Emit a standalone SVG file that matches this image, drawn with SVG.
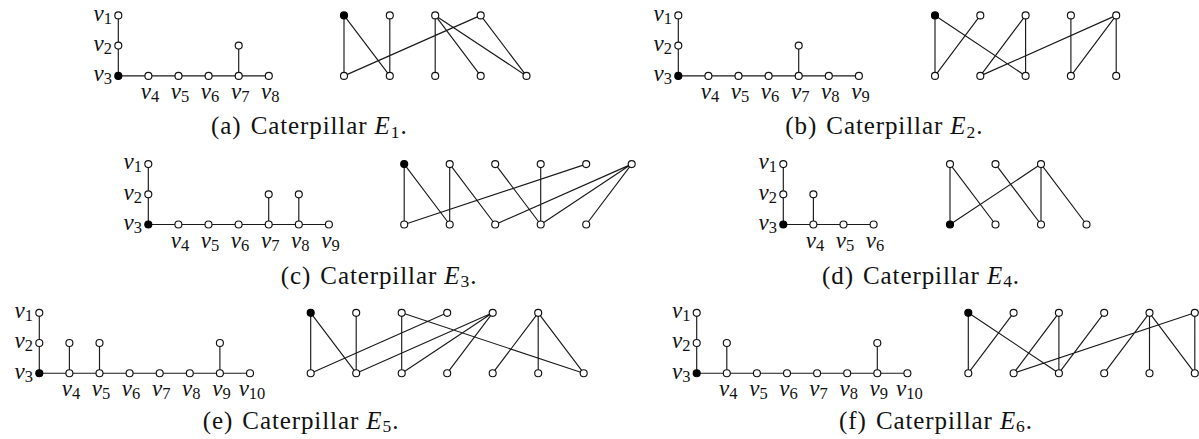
<svg xmlns="http://www.w3.org/2000/svg" width="1199" height="439" viewBox="0 0 1199 439">
<style>
.e{stroke:#1a1a1a;stroke-width:1.15;fill:none}
.n{fill:#fff;stroke:#111;stroke-width:1.15}
.k{fill:#000;stroke:#000;stroke-width:1.15}
.lb{font-family:'Liberation Serif',serif;font-size:23px;font-style:italic;fill:#111}
.sb{font-size:16.5px;font-style:normal}
.cap{font-family:'Liberation Serif',serif;font-size:25px;fill:#111;letter-spacing:0.9px;text-anchor:middle}
.it{font-style:italic}
.cs{font-size:17.5px}
</style>
<rect width="1199" height="439" fill="#fff"/>
<g id="connectors">
<path class="e" d="M118.3 15.4V75.9H268.8M238.7 45.6V75.9"/>
<path class="e" d="M344 15.4L344 75.9M344 15.4L389.8 75.9M389.8 15.4L389.8 75.9M435.2 15.4L435.2 75.9M435.2 15.4L480.7 75.9M435.2 15.4L526.5 75.9M480.7 15.4L344 75.9M480.7 15.4L526.5 75.9"/>
<path class="e" d="M678.3 15.4V75.9H858.9M798.7 45.6V75.9"/>
<path class="e" d="M935 15.4L935 75.9M935 15.4L1025.6 75.9M980.3 15.4L935 75.9M1025.6 15.4L980.3 75.9M1025.6 15.4L1025.6 75.9M1070.9 15.4L1070.9 75.9M1116.2 15.4L980.3 75.9M1116.2 15.4L1070.9 75.9M1116.2 15.4L1116.2 75.9"/>
<path class="e" d="M148.3 164.1V224.5H328.9M268.7 194.3V224.5M298.8 194.3V224.5"/>
<path class="e" d="M404.2 164.1L404.2 224.5M404.2 164.1L449.7 224.5M449.7 164.1L449.7 224.5M449.7 164.1L495.2 224.5M495.2 164.1L540.7 224.5M540.7 164.1L540.7 224.5M586.2 164.1L404.2 224.5M631.7 164.1L495.2 224.5M631.7 164.1L540.7 224.5M631.7 164.1L586.2 224.5"/>
<path class="e" d="M783.3 164.1V224.5H873.6M813.4 194.3V224.5"/>
<path class="e" d="M950 164.1L950 224.5M950 164.1L995.5 224.5M995.5 164.1L1041 224.5M1041 164.1L950 224.5M1041 164.1L1041 224.5M1041 164.1L1086.5 224.5"/>
<path class="e" d="M39.3 312.8V373.2H250M69.4 343V373.2M99.5 343V373.2M219.9 343V373.2"/>
<path class="e" d="M310.7 312.8L310.7 373.2M310.7 312.8L356.2 373.2M356.2 312.8L356.2 373.2M401.7 312.8L401.7 373.2M401.7 312.8L583.7 373.2M447.2 312.8L310.7 373.2M492.7 312.8L356.2 373.2M492.7 312.8L401.7 373.2M492.7 312.8L447.2 373.2M538.2 312.8L492.7 373.2M538.2 312.8L538.2 373.2M538.2 312.8L583.7 373.2"/>
<path class="e" d="M696.7 312.8V373.2H907.4M726.8 343V373.2M877.3 343V373.2"/>
<path class="e" d="M968.3 312.8L968.3 373.2M968.3 312.8L1058.9 373.2M1013.6 312.8L968.3 373.2M1058.9 312.8L1013.6 373.2M1058.9 312.8L1058.9 373.2M1104.2 312.8L1058.9 373.2M1149.5 312.8L1104.2 373.2M1149.5 312.8L1149.5 373.2M1149.5 312.8L1194.8 373.2M1194.8 312.8L1013.6 373.2M1194.8 312.8L1194.8 373.2"/>
</g>
<!-- Panel a -->
<g id="a-v1"><circle class="n" cx="118.3" cy="15.4" r="3.5"/><text class="lb" x="112" y="20.7" text-anchor="end">v<tspan class="sb" dy="3">1</tspan></text></g>
<g id="a-v2"><circle class="n" cx="118.3" cy="45.6" r="3.5"/><text class="lb" x="112" y="50.9" text-anchor="end">v<tspan class="sb" dy="3">2</tspan></text></g>
<g id="a-v3"><circle class="k" cx="118.3" cy="75.9" r="3.5"/><text class="lb" x="112" y="81.2" text-anchor="end">v<tspan class="sb" dy="3">3</tspan></text></g>
<g id="a-v4"><circle class="n" cx="148.4" cy="75.9" r="3.5"/><text class="lb" x="149.9" y="98.9" text-anchor="middle">v<tspan class="sb" dy="3">4</tspan></text></g>
<g id="a-v5"><circle class="n" cx="178.5" cy="75.9" r="3.5"/><text class="lb" x="180" y="98.9" text-anchor="middle">v<tspan class="sb" dy="3">5</tspan></text></g>
<g id="a-v6"><circle class="n" cx="208.6" cy="75.9" r="3.5"/><text class="lb" x="210.1" y="98.9" text-anchor="middle">v<tspan class="sb" dy="3">6</tspan></text></g>
<g id="a-v7"><circle class="n" cx="238.7" cy="75.9" r="3.5"/><text class="lb" x="240.2" y="98.9" text-anchor="middle">v<tspan class="sb" dy="3">7</tspan></text></g>
<g id="a-v8"><circle class="n" cx="268.8" cy="75.9" r="3.5"/><text class="lb" x="270.3" y="98.9" text-anchor="middle">v<tspan class="sb" dy="3">8</tspan></text></g>
<g id="a-p7"><circle class="n" cx="238.7" cy="45.6" r="3.5"/></g>
<g id="a-t1"><circle class="k" cx="344" cy="15.4" r="3.5"/></g>
<g id="a-t2"><circle class="n" cx="389.8" cy="15.4" r="3.5"/></g>
<g id="a-t3"><circle class="n" cx="435.2" cy="15.4" r="3.5"/></g>
<g id="a-t4"><circle class="n" cx="480.7" cy="15.4" r="3.5"/></g>
<g id="a-b1"><circle class="n" cx="344" cy="75.9" r="3.5"/></g>
<g id="a-b2"><circle class="n" cx="389.8" cy="75.9" r="3.5"/></g>
<g id="a-b3"><circle class="n" cx="435.2" cy="75.9" r="3.5"/></g>
<g id="a-b4"><circle class="n" cx="480.7" cy="75.9" r="3.5"/></g>
<g id="a-b5"><circle class="n" cx="526.5" cy="75.9" r="3.5"/></g>
<text id="cap-a" class="cap" x="309.3" y="134">(a) <tspan dx="2">Caterpillar</tspan> <tspan class="it">E</tspan><tspan class="cs" dy="3.5">1</tspan><tspan dy="-3.5">.</tspan></text>
<!-- Panel b -->
<g id="b-v1"><circle class="n" cx="678.3" cy="15.4" r="3.5"/><text class="lb" x="672" y="20.7" text-anchor="end">v<tspan class="sb" dy="3">1</tspan></text></g>
<g id="b-v2"><circle class="n" cx="678.3" cy="45.6" r="3.5"/><text class="lb" x="672" y="50.9" text-anchor="end">v<tspan class="sb" dy="3">2</tspan></text></g>
<g id="b-v3"><circle class="k" cx="678.3" cy="75.9" r="3.5"/><text class="lb" x="672" y="81.2" text-anchor="end">v<tspan class="sb" dy="3">3</tspan></text></g>
<g id="b-v4"><circle class="n" cx="708.4" cy="75.9" r="3.5"/><text class="lb" x="709.9" y="98.9" text-anchor="middle">v<tspan class="sb" dy="3">4</tspan></text></g>
<g id="b-v5"><circle class="n" cx="738.5" cy="75.9" r="3.5"/><text class="lb" x="740" y="98.9" text-anchor="middle">v<tspan class="sb" dy="3">5</tspan></text></g>
<g id="b-v6"><circle class="n" cx="768.6" cy="75.9" r="3.5"/><text class="lb" x="770.1" y="98.9" text-anchor="middle">v<tspan class="sb" dy="3">6</tspan></text></g>
<g id="b-v7"><circle class="n" cx="798.7" cy="75.9" r="3.5"/><text class="lb" x="800.2" y="98.9" text-anchor="middle">v<tspan class="sb" dy="3">7</tspan></text></g>
<g id="b-v8"><circle class="n" cx="828.8" cy="75.9" r="3.5"/><text class="lb" x="830.3" y="98.9" text-anchor="middle">v<tspan class="sb" dy="3">8</tspan></text></g>
<g id="b-v9"><circle class="n" cx="858.9" cy="75.9" r="3.5"/><text class="lb" x="860.4" y="98.9" text-anchor="middle">v<tspan class="sb" dy="3">9</tspan></text></g>
<g id="b-p7"><circle class="n" cx="798.7" cy="45.6" r="3.5"/></g>
<g id="b-t1"><circle class="k" cx="935" cy="15.4" r="3.5"/></g>
<g id="b-t2"><circle class="n" cx="980.3" cy="15.4" r="3.5"/></g>
<g id="b-t3"><circle class="n" cx="1025.6" cy="15.4" r="3.5"/></g>
<g id="b-t4"><circle class="n" cx="1070.9" cy="15.4" r="3.5"/></g>
<g id="b-t5"><circle class="n" cx="1116.2" cy="15.4" r="3.5"/></g>
<g id="b-b1"><circle class="n" cx="935" cy="75.9" r="3.5"/></g>
<g id="b-b2"><circle class="n" cx="980.3" cy="75.9" r="3.5"/></g>
<g id="b-b3"><circle class="n" cx="1025.6" cy="75.9" r="3.5"/></g>
<g id="b-b4"><circle class="n" cx="1070.9" cy="75.9" r="3.5"/></g>
<g id="b-b5"><circle class="n" cx="1116.2" cy="75.9" r="3.5"/></g>
<text id="cap-b" class="cap" x="884.3" y="134">(b) <tspan dx="2">Caterpillar</tspan> <tspan class="it">E</tspan><tspan class="cs" dy="3.5">2</tspan><tspan dy="-3.5">.</tspan></text>
<!-- Panel c -->
<g id="c-v1"><circle class="n" cx="148.3" cy="164.1" r="3.5"/><text class="lb" x="142" y="169.4" text-anchor="end">v<tspan class="sb" dy="3">1</tspan></text></g>
<g id="c-v2"><circle class="n" cx="148.3" cy="194.3" r="3.5"/><text class="lb" x="142" y="199.6" text-anchor="end">v<tspan class="sb" dy="3">2</tspan></text></g>
<g id="c-v3"><circle class="k" cx="148.3" cy="224.5" r="3.5"/><text class="lb" x="142" y="229.8" text-anchor="end">v<tspan class="sb" dy="3">3</tspan></text></g>
<g id="c-v4"><circle class="n" cx="178.4" cy="224.5" r="3.5"/><text class="lb" x="179.9" y="247.5" text-anchor="middle">v<tspan class="sb" dy="3">4</tspan></text></g>
<g id="c-v5"><circle class="n" cx="208.5" cy="224.5" r="3.5"/><text class="lb" x="210" y="247.5" text-anchor="middle">v<tspan class="sb" dy="3">5</tspan></text></g>
<g id="c-v6"><circle class="n" cx="238.6" cy="224.5" r="3.5"/><text class="lb" x="240.1" y="247.5" text-anchor="middle">v<tspan class="sb" dy="3">6</tspan></text></g>
<g id="c-v7"><circle class="n" cx="268.7" cy="224.5" r="3.5"/><text class="lb" x="270.2" y="247.5" text-anchor="middle">v<tspan class="sb" dy="3">7</tspan></text></g>
<g id="c-v8"><circle class="n" cx="298.8" cy="224.5" r="3.5"/><text class="lb" x="300.3" y="247.5" text-anchor="middle">v<tspan class="sb" dy="3">8</tspan></text></g>
<g id="c-v9"><circle class="n" cx="328.9" cy="224.5" r="3.5"/><text class="lb" x="330.4" y="247.5" text-anchor="middle">v<tspan class="sb" dy="3">9</tspan></text></g>
<g id="c-p7"><circle class="n" cx="268.7" cy="194.3" r="3.5"/></g>
<g id="c-p8"><circle class="n" cx="298.8" cy="194.3" r="3.5"/></g>
<g id="c-t1"><circle class="k" cx="404.2" cy="164.1" r="3.5"/></g>
<g id="c-t2"><circle class="n" cx="449.7" cy="164.1" r="3.5"/></g>
<g id="c-t3"><circle class="n" cx="495.2" cy="164.1" r="3.5"/></g>
<g id="c-t4"><circle class="n" cx="540.7" cy="164.1" r="3.5"/></g>
<g id="c-t5"><circle class="n" cx="586.2" cy="164.1" r="3.5"/></g>
<g id="c-t6"><circle class="n" cx="631.7" cy="164.1" r="3.5"/></g>
<g id="c-b1"><circle class="n" cx="404.2" cy="224.5" r="3.5"/></g>
<g id="c-b2"><circle class="n" cx="449.7" cy="224.5" r="3.5"/></g>
<g id="c-b3"><circle class="n" cx="495.2" cy="224.5" r="3.5"/></g>
<g id="c-b4"><circle class="n" cx="540.7" cy="224.5" r="3.5"/></g>
<g id="c-b5"><circle class="n" cx="586.2" cy="224.5" r="3.5"/></g>
<text id="cap-c" class="cap" x="379" y="283.5">(c) <tspan dx="2">Caterpillar</tspan> <tspan class="it">E</tspan><tspan class="cs" dy="3.5">3</tspan><tspan dy="-3.5">.</tspan></text>
<!-- Panel d -->
<g id="d-v1"><circle class="n" cx="783.3" cy="164.1" r="3.5"/><text class="lb" x="777" y="169.4" text-anchor="end">v<tspan class="sb" dy="3">1</tspan></text></g>
<g id="d-v2"><circle class="n" cx="783.3" cy="194.3" r="3.5"/><text class="lb" x="777" y="199.6" text-anchor="end">v<tspan class="sb" dy="3">2</tspan></text></g>
<g id="d-v3"><circle class="k" cx="783.3" cy="224.5" r="3.5"/><text class="lb" x="777" y="229.8" text-anchor="end">v<tspan class="sb" dy="3">3</tspan></text></g>
<g id="d-v4"><circle class="n" cx="813.4" cy="224.5" r="3.5"/><text class="lb" x="814.9" y="247.5" text-anchor="middle">v<tspan class="sb" dy="3">4</tspan></text></g>
<g id="d-v5"><circle class="n" cx="843.5" cy="224.5" r="3.5"/><text class="lb" x="845" y="247.5" text-anchor="middle">v<tspan class="sb" dy="3">5</tspan></text></g>
<g id="d-v6"><circle class="n" cx="873.6" cy="224.5" r="3.5"/><text class="lb" x="875.1" y="247.5" text-anchor="middle">v<tspan class="sb" dy="3">6</tspan></text></g>
<g id="d-p4"><circle class="n" cx="813.4" cy="194.3" r="3.5"/></g>
<g id="d-t1"><circle class="n" cx="950" cy="164.1" r="3.5"/></g>
<g id="d-t2"><circle class="n" cx="995.5" cy="164.1" r="3.5"/></g>
<g id="d-t3"><circle class="n" cx="1041" cy="164.1" r="3.5"/></g>
<g id="d-b1"><circle class="k" cx="950" cy="224.5" r="3.5"/></g>
<g id="d-b2"><circle class="n" cx="995.5" cy="224.5" r="3.5"/></g>
<g id="d-b3"><circle class="n" cx="1041" cy="224.5" r="3.5"/></g>
<g id="d-b4"><circle class="n" cx="1086.5" cy="224.5" r="3.5"/></g>
<text id="cap-d" class="cap" x="921" y="283.5">(d) <tspan dx="2">Caterpillar</tspan> <tspan class="it">E</tspan><tspan class="cs" dy="3.5">4</tspan><tspan dy="-3.5">.</tspan></text>
<!-- Panel e -->
<g id="e-v1"><circle class="n" cx="39.3" cy="312.8" r="3.5"/><text class="lb" x="33" y="318.1" text-anchor="end">v<tspan class="sb" dy="3">1</tspan></text></g>
<g id="e-v2"><circle class="n" cx="39.3" cy="343" r="3.5"/><text class="lb" x="33" y="348.3" text-anchor="end">v<tspan class="sb" dy="3">2</tspan></text></g>
<g id="e-v3"><circle class="k" cx="39.3" cy="373.2" r="3.5"/><text class="lb" x="33" y="378.5" text-anchor="end">v<tspan class="sb" dy="3">3</tspan></text></g>
<g id="e-v4"><circle class="n" cx="69.4" cy="373.2" r="3.5"/><text class="lb" x="70.9" y="396.2" text-anchor="middle">v<tspan class="sb" dy="3">4</tspan></text></g>
<g id="e-v5"><circle class="n" cx="99.5" cy="373.2" r="3.5"/><text class="lb" x="101" y="396.2" text-anchor="middle">v<tspan class="sb" dy="3">5</tspan></text></g>
<g id="e-v6"><circle class="n" cx="129.6" cy="373.2" r="3.5"/><text class="lb" x="131.1" y="396.2" text-anchor="middle">v<tspan class="sb" dy="3">6</tspan></text></g>
<g id="e-v7"><circle class="n" cx="159.7" cy="373.2" r="3.5"/><text class="lb" x="161.2" y="396.2" text-anchor="middle">v<tspan class="sb" dy="3">7</tspan></text></g>
<g id="e-v8"><circle class="n" cx="189.8" cy="373.2" r="3.5"/><text class="lb" x="191.3" y="396.2" text-anchor="middle">v<tspan class="sb" dy="3">8</tspan></text></g>
<g id="e-v9"><circle class="n" cx="219.9" cy="373.2" r="3.5"/><text class="lb" x="221.4" y="396.2" text-anchor="middle">v<tspan class="sb" dy="3">9</tspan></text></g>
<g id="e-v10"><circle class="n" cx="250" cy="373.2" r="3.5"/><text class="lb" x="252" y="396.2" text-anchor="middle">v<tspan class="sb" dy="3">10</tspan></text></g>
<g id="e-p4"><circle class="n" cx="69.4" cy="343" r="3.5"/></g>
<g id="e-p5"><circle class="n" cx="99.5" cy="343" r="3.5"/></g>
<g id="e-p9"><circle class="n" cx="219.9" cy="343" r="3.5"/></g>
<g id="e-t1"><circle class="k" cx="310.7" cy="312.8" r="3.5"/></g>
<g id="e-t2"><circle class="n" cx="356.2" cy="312.8" r="3.5"/></g>
<g id="e-t3"><circle class="n" cx="401.7" cy="312.8" r="3.5"/></g>
<g id="e-t4"><circle class="n" cx="447.2" cy="312.8" r="3.5"/></g>
<g id="e-t5"><circle class="n" cx="492.7" cy="312.8" r="3.5"/></g>
<g id="e-t6"><circle class="n" cx="538.2" cy="312.8" r="3.5"/></g>
<g id="e-b1"><circle class="n" cx="310.7" cy="373.2" r="3.5"/></g>
<g id="e-b2"><circle class="n" cx="356.2" cy="373.2" r="3.5"/></g>
<g id="e-b3"><circle class="n" cx="401.7" cy="373.2" r="3.5"/></g>
<g id="e-b4"><circle class="n" cx="447.2" cy="373.2" r="3.5"/></g>
<g id="e-b5"><circle class="n" cx="492.7" cy="373.2" r="3.5"/></g>
<g id="e-b6"><circle class="n" cx="538.2" cy="373.2" r="3.5"/></g>
<g id="e-b7"><circle class="n" cx="583.7" cy="373.2" r="3.5"/></g>
<text id="cap-e" class="cap" x="301" y="428.7">(e) <tspan dx="2">Caterpillar</tspan> <tspan class="it">E</tspan><tspan class="cs" dy="3.5">5</tspan><tspan dy="-3.5">.</tspan></text>
<!-- Panel f -->
<g id="f-v1"><circle class="n" cx="696.7" cy="312.8" r="3.5"/><text class="lb" x="690.4" y="318.1" text-anchor="end">v<tspan class="sb" dy="3">1</tspan></text></g>
<g id="f-v2"><circle class="n" cx="696.7" cy="343" r="3.5"/><text class="lb" x="690.4" y="348.3" text-anchor="end">v<tspan class="sb" dy="3">2</tspan></text></g>
<g id="f-v3"><circle class="k" cx="696.7" cy="373.2" r="3.5"/><text class="lb" x="690.4" y="378.5" text-anchor="end">v<tspan class="sb" dy="3">3</tspan></text></g>
<g id="f-v4"><circle class="n" cx="726.8" cy="373.2" r="3.5"/><text class="lb" x="728.3" y="396.2" text-anchor="middle">v<tspan class="sb" dy="3">4</tspan></text></g>
<g id="f-v5"><circle class="n" cx="756.9" cy="373.2" r="3.5"/><text class="lb" x="758.4" y="396.2" text-anchor="middle">v<tspan class="sb" dy="3">5</tspan></text></g>
<g id="f-v6"><circle class="n" cx="787" cy="373.2" r="3.5"/><text class="lb" x="788.5" y="396.2" text-anchor="middle">v<tspan class="sb" dy="3">6</tspan></text></g>
<g id="f-v7"><circle class="n" cx="817.1" cy="373.2" r="3.5"/><text class="lb" x="818.6" y="396.2" text-anchor="middle">v<tspan class="sb" dy="3">7</tspan></text></g>
<g id="f-v8"><circle class="n" cx="847.2" cy="373.2" r="3.5"/><text class="lb" x="848.7" y="396.2" text-anchor="middle">v<tspan class="sb" dy="3">8</tspan></text></g>
<g id="f-v9"><circle class="n" cx="877.3" cy="373.2" r="3.5"/><text class="lb" x="878.8" y="396.2" text-anchor="middle">v<tspan class="sb" dy="3">9</tspan></text></g>
<g id="f-v10"><circle class="n" cx="907.4" cy="373.2" r="3.5"/><text class="lb" x="909.4" y="396.2" text-anchor="middle">v<tspan class="sb" dy="3">10</tspan></text></g>
<g id="f-p4"><circle class="n" cx="726.8" cy="343" r="3.5"/></g>
<g id="f-p9"><circle class="n" cx="877.3" cy="343" r="3.5"/></g>
<g id="f-t1"><circle class="k" cx="968.3" cy="312.8" r="3.5"/></g>
<g id="f-t2"><circle class="n" cx="1013.6" cy="312.8" r="3.5"/></g>
<g id="f-t3"><circle class="n" cx="1058.9" cy="312.8" r="3.5"/></g>
<g id="f-t4"><circle class="n" cx="1104.2" cy="312.8" r="3.5"/></g>
<g id="f-t5"><circle class="n" cx="1149.5" cy="312.8" r="3.5"/></g>
<g id="f-t6"><circle class="n" cx="1194.8" cy="312.8" r="3.5"/></g>
<g id="f-b1"><circle class="n" cx="968.3" cy="373.2" r="3.5"/></g>
<g id="f-b2"><circle class="n" cx="1013.6" cy="373.2" r="3.5"/></g>
<g id="f-b3"><circle class="n" cx="1058.9" cy="373.2" r="3.5"/></g>
<g id="f-b4"><circle class="n" cx="1104.2" cy="373.2" r="3.5"/></g>
<g id="f-b5"><circle class="n" cx="1149.5" cy="373.2" r="3.5"/></g>
<g id="f-b6"><circle class="n" cx="1194.8" cy="373.2" r="3.5"/></g>
<text id="cap-f" class="cap" x="936" y="428.7">(f) <tspan dx="2">Caterpillar</tspan> <tspan class="it">E</tspan><tspan class="cs" dy="3.5">6</tspan><tspan dy="-3.5">.</tspan></text>
</svg>
